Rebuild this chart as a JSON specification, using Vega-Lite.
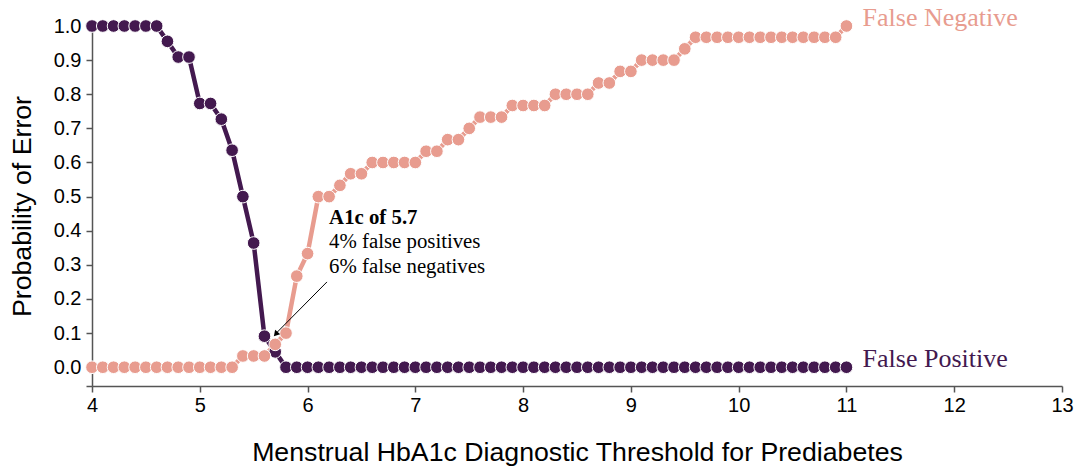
{
  "$schema": "https://vega.github.io/schema/vega-lite/v6.json",
  "width": 970,
  "height": 360,
  "autosize": "none",
  "padding": {"left": 92, "top": 26, "right": 27, "bottom": 88},
  "background": "white",
  "config": {
    "view": {"stroke": null},
    "axis": {
      "grid": false,
      "labelFont": "Liberation Sans",
      "titleFont": "Liberation Sans",
      "labelFontSize": 20,
      "titleFontSize": 26.7,
      "titleFontWeight": "normal",
      "labelColor": "#000",
      "titleColor": "#000",
      "domainColor": "#555",
      "tickColor": "#555",
      "domainWidth": 1.5,
      "tickWidth": 1.5,
      "tickSize": 6,
      "labelOverlap": false,
      "labelFlush": false
    }
  },
  "datasets": {
    "curves": [
      {"x":4.0,"y":1,"s":"FP"},{"x":4.1,"y":1,"s":"FP"},{"x":4.2,"y":1,"s":"FP"},{"x":4.3,"y":1,"s":"FP"},{"x":4.4,"y":1,"s":"FP"},{"x":4.5,"y":1,"s":"FP"},{"x":4.6,"y":1,"s":"FP"},
      {"x":4.7,"y":0.955,"s":"FP"},{"x":4.8,"y":0.909,"s":"FP"},{"x":4.9,"y":0.909,"s":"FP"},{"x":5.0,"y":0.773,"s":"FP"},{"x":5.1,"y":0.773,"s":"FP"},{"x":5.2,"y":0.727,"s":"FP"},{"x":5.3,"y":0.636,"s":"FP"},{"x":5.4,"y":0.5,"s":"FP"},{"x":5.5,"y":0.364,"s":"FP"},{"x":5.6,"y":0.091,"s":"FP"},{"x":5.7,"y":0.045,"s":"FP"},
      {"x":5.8,"y":0,"s":"FP"},{"x":5.9,"y":0,"s":"FP"},{"x":6.0,"y":0,"s":"FP"},{"x":6.1,"y":0,"s":"FP"},{"x":6.2,"y":0,"s":"FP"},{"x":6.3,"y":0,"s":"FP"},{"x":6.4,"y":0,"s":"FP"},{"x":6.5,"y":0,"s":"FP"},{"x":6.6,"y":0,"s":"FP"},{"x":6.7,"y":0,"s":"FP"},{"x":6.8,"y":0,"s":"FP"},{"x":6.9,"y":0,"s":"FP"},
      {"x":7.0,"y":0,"s":"FP"},{"x":7.1,"y":0,"s":"FP"},{"x":7.2,"y":0,"s":"FP"},{"x":7.3,"y":0,"s":"FP"},{"x":7.4,"y":0,"s":"FP"},{"x":7.5,"y":0,"s":"FP"},{"x":7.6,"y":0,"s":"FP"},{"x":7.7,"y":0,"s":"FP"},{"x":7.8,"y":0,"s":"FP"},{"x":7.9,"y":0,"s":"FP"},
      {"x":8.0,"y":0,"s":"FP"},{"x":8.1,"y":0,"s":"FP"},{"x":8.2,"y":0,"s":"FP"},{"x":8.3,"y":0,"s":"FP"},{"x":8.4,"y":0,"s":"FP"},{"x":8.5,"y":0,"s":"FP"},{"x":8.6,"y":0,"s":"FP"},{"x":8.7,"y":0,"s":"FP"},{"x":8.8,"y":0,"s":"FP"},{"x":8.9,"y":0,"s":"FP"},
      {"x":9.0,"y":0,"s":"FP"},{"x":9.1,"y":0,"s":"FP"},{"x":9.2,"y":0,"s":"FP"},{"x":9.3,"y":0,"s":"FP"},{"x":9.4,"y":0,"s":"FP"},{"x":9.5,"y":0,"s":"FP"},{"x":9.6,"y":0,"s":"FP"},{"x":9.7,"y":0,"s":"FP"},{"x":9.8,"y":0,"s":"FP"},{"x":9.9,"y":0,"s":"FP"},
      {"x":10.0,"y":0,"s":"FP"},{"x":10.1,"y":0,"s":"FP"},{"x":10.2,"y":0,"s":"FP"},{"x":10.3,"y":0,"s":"FP"},{"x":10.4,"y":0,"s":"FP"},{"x":10.5,"y":0,"s":"FP"},{"x":10.6,"y":0,"s":"FP"},{"x":10.7,"y":0,"s":"FP"},{"x":10.8,"y":0,"s":"FP"},{"x":10.9,"y":0,"s":"FP"},{"x":11.0,"y":0,"s":"FP"},
      {"x":4.0,"y":0,"s":"FN"},{"x":4.1,"y":0,"s":"FN"},{"x":4.2,"y":0,"s":"FN"},{"x":4.3,"y":0,"s":"FN"},{"x":4.4,"y":0,"s":"FN"},{"x":4.5,"y":0,"s":"FN"},{"x":4.6,"y":0,"s":"FN"},{"x":4.7,"y":0,"s":"FN"},{"x":4.8,"y":0,"s":"FN"},{"x":4.9,"y":0,"s":"FN"},
      {"x":5.0,"y":0,"s":"FN"},{"x":5.1,"y":0,"s":"FN"},{"x":5.2,"y":0,"s":"FN"},{"x":5.3,"y":0,"s":"FN"},{"x":5.4,"y":0.033,"s":"FN"},{"x":5.5,"y":0.033,"s":"FN"},{"x":5.6,"y":0.033,"s":"FN"},{"x":5.7,"y":0.067,"s":"FN"},{"x":5.8,"y":0.1,"s":"FN"},{"x":5.9,"y":0.267,"s":"FN"},
      {"x":6.0,"y":0.333,"s":"FN"},{"x":6.1,"y":0.5,"s":"FN"},{"x":6.2,"y":0.5,"s":"FN"},{"x":6.3,"y":0.533,"s":"FN"},{"x":6.4,"y":0.567,"s":"FN"},{"x":6.5,"y":0.567,"s":"FN"},{"x":6.6,"y":0.6,"s":"FN"},{"x":6.7,"y":0.6,"s":"FN"},{"x":6.8,"y":0.6,"s":"FN"},{"x":6.9,"y":0.6,"s":"FN"},
      {"x":7.0,"y":0.6,"s":"FN"},{"x":7.1,"y":0.633,"s":"FN"},{"x":7.2,"y":0.633,"s":"FN"},{"x":7.3,"y":0.667,"s":"FN"},{"x":7.4,"y":0.667,"s":"FN"},{"x":7.5,"y":0.7,"s":"FN"},{"x":7.6,"y":0.733,"s":"FN"},{"x":7.7,"y":0.733,"s":"FN"},{"x":7.8,"y":0.733,"s":"FN"},{"x":7.9,"y":0.767,"s":"FN"},
      {"x":8.0,"y":0.767,"s":"FN"},{"x":8.1,"y":0.767,"s":"FN"},{"x":8.2,"y":0.767,"s":"FN"},{"x":8.3,"y":0.8,"s":"FN"},{"x":8.4,"y":0.8,"s":"FN"},{"x":8.5,"y":0.8,"s":"FN"},{"x":8.6,"y":0.8,"s":"FN"},{"x":8.7,"y":0.833,"s":"FN"},{"x":8.8,"y":0.833,"s":"FN"},{"x":8.9,"y":0.867,"s":"FN"},
      {"x":9.0,"y":0.867,"s":"FN"},{"x":9.1,"y":0.9,"s":"FN"},{"x":9.2,"y":0.9,"s":"FN"},{"x":9.3,"y":0.9,"s":"FN"},{"x":9.4,"y":0.9,"s":"FN"},{"x":9.5,"y":0.933,"s":"FN"},{"x":9.6,"y":0.967,"s":"FN"},{"x":9.7,"y":0.967,"s":"FN"},{"x":9.8,"y":0.967,"s":"FN"},{"x":9.9,"y":0.967,"s":"FN"},
      {"x":10.0,"y":0.967,"s":"FN"},{"x":10.1,"y":0.967,"s":"FN"},{"x":10.2,"y":0.967,"s":"FN"},{"x":10.3,"y":0.967,"s":"FN"},{"x":10.4,"y":0.967,"s":"FN"},{"x":10.5,"y":0.967,"s":"FN"},{"x":10.6,"y":0.967,"s":"FN"},{"x":10.7,"y":0.967,"s":"FN"},{"x":10.8,"y":0.967,"s":"FN"},{"x":10.9,"y":0.967,"s":"FN"},{"x":11.0,"y":1,"s":"FN"}
    ],
    "serieslabels": [
      {"x": 11.15, "y": 1.0, "s": "FN", "label": "False Negative"},
      {"x": 11.15, "y": 0.0, "s": "FP", "label": "False Positive"}
    ],
    "notehead": [
      {"x": 6.2, "y": 0.421, "label": "A1c of 5.7"}
    ],
    "notebody": [
      {"x": 6.2, "y": 0.348, "label": "4% false positives"},
      {"x": 6.2, "y": 0.275, "label": "6% false negatives"}
    ],
    "arrow": [
      {"x": 6.18, "y": 0.25, "x2": 5.71, "y2": 0.1}
    ],
    "arrowhead": [
      {"x": 5.705, "y": 0.097}
    ]
  },
  "layer": [
    {
      "data": {"name": "curves"},
      "mark": {"type": "line", "strokeWidth": 4.5},
      "encoding": {
        "x": {
          "field": "x", "type": "quantitative",
          "scale": {"domain": [4, 13], "nice": false, "zero": false},
          "axis": {
            "values": [4, 5, 6, 7, 8, 9, 10, 11, 12, 13],
            "tickCount": 30,
            "format": "d",
            "labelPadding": 3,
            "labelOverlap": false,
            "titlePadding": 24,
            "title": "Menstrual HbA1c Diagnostic Threshold for Prediabetes"
          }
        },
        "y": {
          "field": "y", "type": "quantitative",
          "scale": {"domain": [-0.055, 1], "nice": false, "zero": false},
          "axis": {
            "values": [-0.055, 0, 0.1, 0.2, 0.3, 0.4, 0.5, 0.6, 0.7, 0.8, 0.9, 1.0],
            "tickCount": 30,
            "labelExpr": "datum.value < 0 ? '' : format(datum.value, '.1f')",
            "labelPadding": 5,
            "labelOverlap": false,
            "titlePadding": 17,
            "title": "Probability of Error"
          }
        },
        "color": {
          "field": "s", "type": "nominal",
          "scale": {"domain": ["FP", "FN"], "range": ["#43194f", "#e89c8f"]},
          "legend": null
        },
        "detail": {"field": "s"}
      }
    },
    {
      "data": {"name": "curves"},
      "mark": {"type": "point", "filled": true, "size": 160, "stroke": "white", "strokeWidth": 1, "opacity": 1},
      "encoding": {
        "x": {"field": "x", "type": "quantitative"},
        "y": {"field": "y", "type": "quantitative"},
        "fill": {"field": "s", "type": "nominal", "scale": {"domain": ["FP", "FN"], "range": ["#43194f", "#e89c8f"]}, "legend": null}
      }
    },
    {
      "data": {"name": "serieslabels"},
      "mark": {"type": "text", "align": "left", "baseline": "alphabetic", "font": "Liberation Serif", "fontSize": 26},
      "encoding": {
        "x": {"field": "x", "type": "quantitative"},
        "y": {"field": "y", "type": "quantitative"},
        "text": {"field": "label"},
        "color": {"field": "s", "type": "nominal", "legend": null}
      }
    },
    {
      "data": {"name": "notehead"},
      "mark": {"type": "text", "align": "left", "baseline": "alphabetic", "font": "Liberation Serif", "fontSize": 20.8, "fontWeight": "bold", "color": "#000"},
      "encoding": {
        "x": {"field": "x", "type": "quantitative"},
        "y": {"field": "y", "type": "quantitative"},
        "text": {"field": "label"}
      }
    },
    {
      "data": {"name": "notebody"},
      "mark": {"type": "text", "align": "left", "baseline": "alphabetic", "font": "Liberation Serif", "fontSize": 20.8, "color": "#000"},
      "encoding": {
        "x": {"field": "x", "type": "quantitative"},
        "y": {"field": "y", "type": "quantitative"},
        "text": {"field": "label"}
      }
    },
    {
      "data": {"name": "arrow"},
      "mark": {"type": "rule", "color": "#000", "strokeWidth": 1},
      "encoding": {
        "x": {"field": "x", "type": "quantitative"},
        "y": {"field": "y", "type": "quantitative"},
        "x2": {"field": "x2"},
        "y2": {"field": "y2"}
      }
    },
    {
      "data": {"name": "arrowhead"},
      "mark": {"type": "point", "shape": "triangle-up", "filled": true, "color": "#000", "size": 45, "angle": 221, "opacity": 1},
      "encoding": {
        "x": {"field": "x", "type": "quantitative"},
        "y": {"field": "y", "type": "quantitative"}
      }
    }
  ]
}
